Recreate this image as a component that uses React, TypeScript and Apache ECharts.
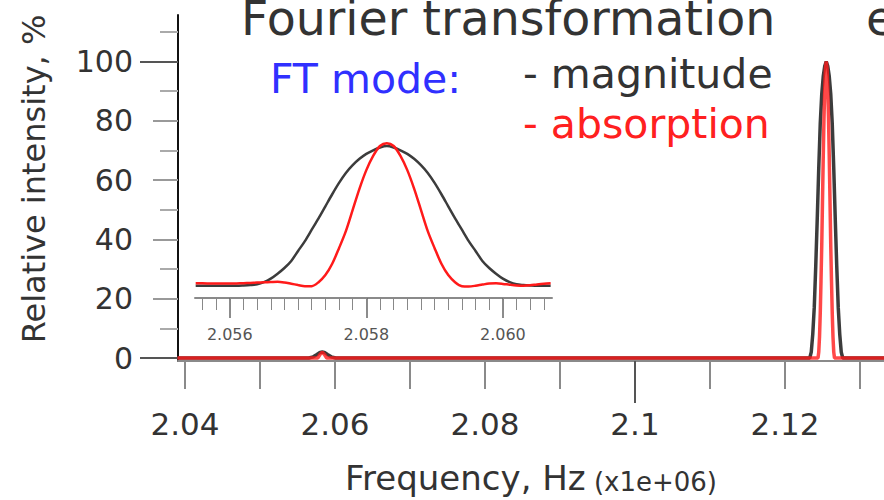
import React, { useEffect, useRef } from "react";
import * as echarts from "echarts";

const FONT = "DejaVu Sans";

// Main axis ticks / labels
const mainXTicks = [2.04, 2.05, 2.06, 2.07, 2.08, 2.09, 2.1, 2.11, 2.12, 2.13];
const mainXLabels = [2.04, 2.06, 2.08, 2.1, 2.12];
const mainXLongTicks = [2.1];
const mainYLabels = [0, 20, 40, 60, 80, 100];
const mainYMidTicks = [20, 40, 60, 80];
const mainYMinorTicks = [10, 30, 50, 70, 90, 110];
const mainYLongTicks = [0, 100];

// Inset axis ticks / labels
const insetXLabels = [2.056, 2.058, 2.06];
const insetXMinorTicks = [
  2.0556, 2.0558, 2.056, 2.0562, 2.0564, 2.0566, 2.0568, 2.057, 2.0572, 2.0574,
  2.0576, 2.0578, 2.058, 2.0582, 2.0584, 2.0586, 2.0588, 2.059, 2.0592, 2.0594,
  2.0596, 2.0598, 2.06, 2.0602, 2.0604, 2.0606,
];

// Main spectrum: [frequency (x1e6 Hz), relative intensity %]
const mainMagnitude: [number, number][] = [
  [2.039, 0], [2.0565, 0], [2.0571, 0.4], [2.0576, 1.2], [2.058, 1.9], [2.0583, 2],
  [2.0586, 1.9], [2.059, 1.2], [2.0595, 0.4], [2.0601, 0], [2.1231, 0],
  [2.1233, 0], [2.1235, 2], [2.1237, 8], [2.1239, 17], [2.1241, 31], [2.1243, 47],
  [2.1245, 64], [2.1247, 79], [2.1249, 89], [2.1251, 95], [2.1253, 98.5], [2.1255, 100],
  [2.1257, 98.5], [2.1259, 95], [2.1261, 89], [2.1263, 79], [2.1265, 64], [2.1267, 47],
  [2.1269, 31], [2.1271, 17], [2.1273, 8], [2.1275, 2], [2.1277, 0], [2.1336, 0],
];
const mainAbsorption: [number, number][] = [
  [2.039, 0], [2.0577, 0], [2.058, 1.2], [2.0583, 2], [2.0586, 1.2], [2.0589, 0],
  [2.1244, 0], [2.1245, 2], [2.1246, 7], [2.1247, 15], [2.1248, 26], [2.1249, 38],
  [2.125, 53], [2.1251, 68], [2.1252, 81], [2.1253, 91], [2.1254, 98], [2.1255, 100],
  [2.1256, 98], [2.1257, 91], [2.1258, 81], [2.1259, 68], [2.126, 53], [2.1261, 38],
  [2.1262, 26], [2.1263, 15], [2.1264, 7], [2.1265, 2], [2.1266, 0], [2.1336, 0],
];

// Inset (zoom on the small peak near 2.058), normalised to its own maximum
const insetFreq = [
  2.0555, 2.0556, 2.0557, 2.0558, 2.0559, 2.056, 2.0561, 2.0562, 2.0563, 2.0564,
  2.0565, 2.0566, 2.0567, 2.0568, 2.0569, 2.057, 2.0571, 2.0572, 2.0573, 2.0574,
  2.0575, 2.0576, 2.0577, 2.0578, 2.0579, 2.058, 2.0581, 2.0582, 2.0583, 2.0584,
  2.0585, 2.0586, 2.0587, 2.0588, 2.0589, 2.059, 2.0591, 2.0592, 2.0593, 2.0594,
  2.0595, 2.0596, 2.0597, 2.0598, 2.0599, 2.06, 2.0601, 2.0602, 2.0603, 2.0604,
  2.0605, 2.0606, 2.0607,
];
const insetMagnitude = [
  -0.5, -0.5, -0.5, -0.5, -0.5, -0.5, -0.5, -0.3, 0, 0.5,
  2, 4.5, 8, 12, 17, 24, 31, 39, 47, 55.5,
  64, 72, 79, 84.5, 89, 92.5, 95, 97, 98, 97,
  95, 92.5, 89, 84.5, 79, 72, 64, 55.5, 47, 39,
  31, 24, 17, 12, 8, 4.5, 2, 0.5, 0, -0.3,
  -0.5, -0.5, -0.5,
];
const insetAbsorption = [
  1.2, 1.2, 1.1, 1, 1, 1, 1.1, 1.3, 1.5, 1.7,
  1.9, 2.1, 2.3, 1.8, 0.9, 0, -0.8, -0.8, 2, 7,
  15, 26, 38, 53, 68, 81, 91, 98, 100, 98,
  91, 81, 68, 53, 38, 26, 15, 7, 2, -0.8,
  -1, -0.5, 0.3, 1, 1.2, 0.8, 0.2, -0.3, -0.5, -0.2,
  0.4, 0.9, 1.2,
];

const MAIN_X_MIN = 2.03907;
const MAIN_X_MAX = 2.1332;
const INSET_X_MIN = 2.05549;
const INSET_X_MAX = 2.06072;

const fmtMain = (v: number) => String(Number(v.toFixed(2)));

export default function App() {
  const ref = useRef<HTMLDivElement>(null);
  useEffect(() => {
    const chart = echarts.init(ref.current!, null, { renderer: "svg" });
    const noSplit = { show: false };
    const option: any = {
      animation: false,
      backgroundColor: "#ffffff",
      textStyle: { fontFamily: FONT },
      grid: [
        { left: 178, right: 0, top: 15, bottom: 135 },
        { left: 195, right: 332, top: 129, bottom: 202 },
      ],
      xAxis: [
        {
          type: "value", gridIndex: 0, position: "bottom", min: MAIN_X_MIN, max: MAIN_X_MAX,
          axisLine: { onZero: false, lineStyle: { color: "#8a8a8a", width: 2 } },
          axisTick: { customValues: mainXTicks, length: 28, lineStyle: { color: "#8a8a8a", width: 2 } },
          axisLabel: {
            customValues: mainXLabels, margin: 47, fontSize: 31, color: "#333",
            fontFamily: FONT, formatter: (v: number) => fmtMain(v),
          },
          splitLine: noSplit,
          name: "{a|Frequency, Hz} {b|(x1e+06)}",
          nameLocation: "middle",
          nameGap: 100,
          nameTextStyle: {
            fontSize: 26, color: "#333", fontFamily: FONT,
            rich: {
              a: { fontSize: 34, color: "#333", fontFamily: FONT, verticalAlign: "bottom" },
              b: { fontSize: 26, color: "#333", fontFamily: FONT, verticalAlign: "bottom" },
            },
          },
        },
        {
          type: "value", gridIndex: 0, position: "bottom", min: MAIN_X_MIN, max: MAIN_X_MAX,
          axisLine: { show: false, onZero: false },
          axisTick: { customValues: mainXLongTicks, length: 42, lineStyle: { color: "#555", width: 2 } },
          axisLabel: { show: false },
          splitLine: noSplit,
        },
        {
          type: "value", gridIndex: 1, position: "bottom", min: INSET_X_MIN, max: INSET_X_MAX,
          axisLine: { onZero: false, lineStyle: { color: "#8a8a8a", width: 2 } },
          axisTick: { customValues: insetXLabels, length: 20, lineStyle: { color: "#666", width: 1.5 } },
          axisLabel: {
            customValues: insetXLabels, margin: 28, fontSize: 16, color: "#555",
            fontFamily: FONT, formatter: (v: number) => v.toFixed(3),
          },
          splitLine: noSplit,
        },
        {
          type: "value", gridIndex: 1, position: "bottom", min: INSET_X_MIN, max: INSET_X_MAX,
          axisLine: { show: false, onZero: false },
          axisTick: { customValues: insetXMinorTicks, length: 12, lineStyle: { color: "#888", width: 1 } },
          axisLabel: { show: false },
          splitLine: noSplit,
        },
      ],
      yAxis: [
        {
          type: "value", gridIndex: 0, position: "left", min: -1, max: 115.7,
          axisLine: { show: true, onZero: false, lineStyle: { color: "#111", width: 2 } },
          axisTick: { customValues: mainYMidTicks, length: 25, lineStyle: { color: "#999", width: 2 } },
          axisLabel: {
            customValues: mainYLabels, margin: 45, fontSize: 30, color: "#333", fontFamily: FONT,
          },
          splitLine: noSplit,
          name: "Relative intensity, %",
          nameLocation: "middle",
          nameGap: 128,
          nameRotate: 90,
          nameTextStyle: { fontSize: 32, color: "#333", fontFamily: FONT, padding: [0, 0, 0, 18] },
        },
        {
          type: "value", gridIndex: 0, position: "left", min: -1, max: 115.7,
          axisLine: { show: false, onZero: false },
          axisTick: { customValues: mainYMinorTicks, length: 18, lineStyle: { color: "#aaa", width: 2 } },
          axisLabel: { show: false },
          splitLine: noSplit,
        },
        {
          type: "value", gridIndex: 0, position: "left", min: -1, max: 115.7,
          axisLine: { show: false, onZero: false },
          axisTick: { customValues: mainYLongTicks, length: 38, lineStyle: { color: "#555", width: 2 } },
          axisLabel: { show: false },
          splitLine: noSplit,
        },
        {
          type: "value", gridIndex: 1, min: -9.15, max: 110, show: false,
          axisLine: { onZero: false }, splitLine: noSplit,
        },
      ],
      series: [
        {
          type: "line", name: "magnitude", xAxisIndex: 0, yAxisIndex: 0, data: mainMagnitude,
          showSymbol: false, lineStyle: { color: "#3c3c3c", width: 3.5 }, z: 2,
        },
        {
          type: "line", name: "absorption", xAxisIndex: 0, yAxisIndex: 0, data: mainAbsorption,
          showSymbol: false, lineStyle: { color: "#ff1a1a", width: 3.5, opacity: 0.8 }, z: 3,
        },
        {
          type: "line", name: "magnitude (inset)", xAxisIndex: 2, yAxisIndex: 3,
          data: insetFreq.map((f, i) => [f, insetMagnitude[i]]),
          showSymbol: false, smooth: 0.3, lineStyle: { color: "#3c3c3c", width: 2.5 }, z: 4,
        },
        {
          type: "line", name: "absorption (inset)", xAxisIndex: 2, yAxisIndex: 3,
          data: insetFreq.map((f, i) => [f, insetAbsorption[i]]),
          showSymbol: false, smooth: 0.3, lineStyle: { color: "#ff1a1a", width: 2.5 }, z: 5,
        },
      ],
      graphic: [
        {
          type: "text", left: 241, top: -6,
          style: { text: "Fourier transformation", font: `47.5px "${FONT}"`, fill: "#333" },
        },
        {
          type: "text", left: 866, top: -6,
          style: { text: "e", font: `47.5px "${FONT}"`, fill: "#333" },
        },
        {
          type: "text", left: 270, top: 58,
          style: { text: "FT mode:", font: `41px "${FONT}"`, fill: "#3030ff" },
        },
        {
          type: "text", left: 523, top: 53,
          style: { text: "- magnitude", font: `41px "${FONT}"`, fill: "#333" },
        },
        {
          type: "text", left: 523, top: 103,
          style: { text: "- absorption", font: `41px "${FONT}"`, fill: "#ff2020" },
        },
      ],
    };
    chart.setOption(option);
    return () => chart.dispose();
  }, []);
  return (
    <div
      ref={ref}
      style={{ position: "fixed", left: 0, top: 0, width: 884, height: 500, background: "#fff" }}
    />
  );
}
